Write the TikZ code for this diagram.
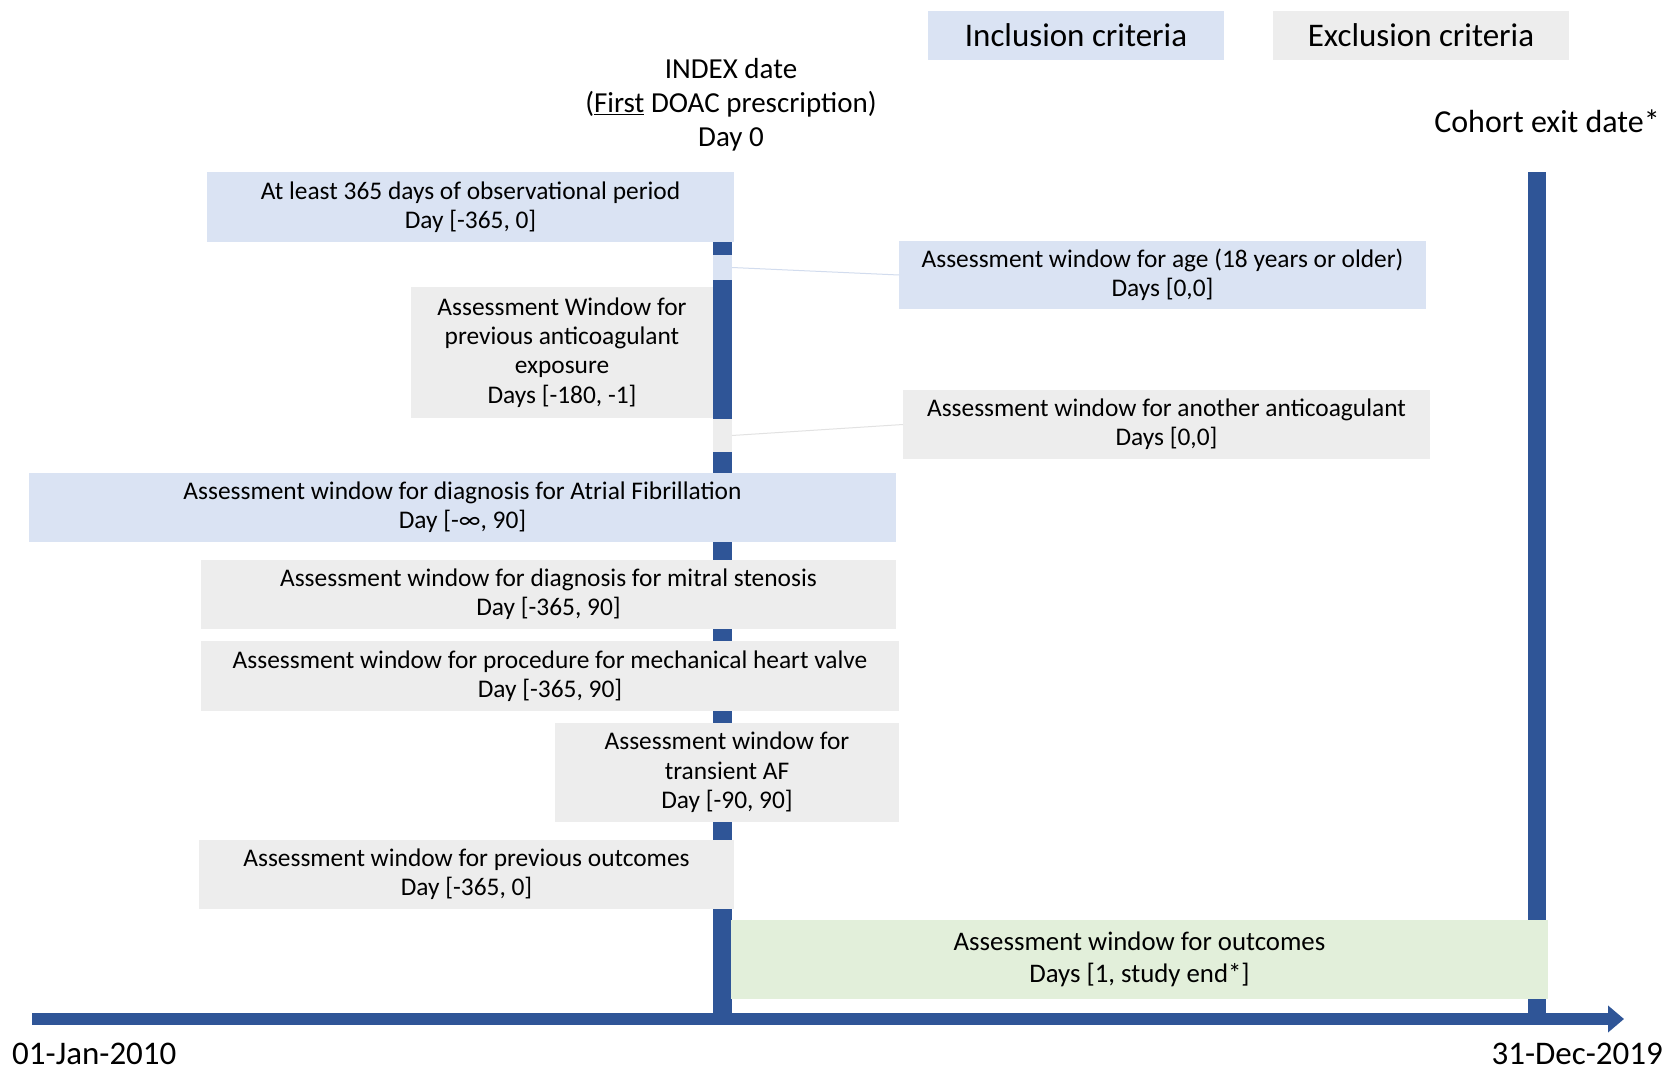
\documentclass[tikz,border=0pt]{standalone}
\usepackage{fontspec}
\setmainfont{Carlito}
\usetikzlibrary{arrows.meta}
\definecolor{barblue}{HTML}{2F5597}
\definecolor{inblue}{HTML}{DAE3F3}
\definecolor{exgray}{HTML}{EDEDED}
\definecolor{outgreen}{HTML}{E2EFDA}
\definecolor{linkblue}{HTML}{D2DCEE}
\definecolor{linkgray}{HTML}{E2E2E2}
\begin{document}
\begin{tikzpicture}[x=1pt,y=-1pt,
  rbox/.style={anchor=north west, inner sep=0pt, outer sep=0pt, align=center, text=black,
    font=\fontsize{25.4}{29.4}\selectfont},
  inbox/.style={rbox, fill=inblue},
  exbox/.style={rbox, fill=exgray},
  outbox/.style={rbox, fill=outgreen, font=\fontsize{26.8}{32.5}\selectfont},
  legend/.style={rbox, font=\fontsize{33}{38}\selectfont},
  seg/.style={anchor=north west, inner sep=0pt, outer sep=0pt, minimum width=19pt},
  lbl/.style={inner sep=0pt, align=center, text=black, font=\fontsize{29}{34}\selectfont},
  datelbl/.style={inner sep=0pt, text=black, font=\fontsize{33}{38}\selectfont},
  link/.style={line width=1pt}
]
\useasboundingbox (0,0) rectangle (1667,1067);
\fill[white] (0,0) rectangle (1667,1067);

% legend
\node[legend, fill=inblue, minimum width=296pt, minimum height=49pt] (incl) at (928,11) {Inclusion criteria};
\node[legend, fill=exgray, minimum width=296pt, minimum height=49pt] (excl) at (1273,11) {Exclusion criteria};

% top labels
\node[lbl] (index) at (731,105) {INDEX date\\(\underline{First} DOAC prescription)\\Day 0};
\node[lbl, font=\fontsize{32}{36}\selectfont] (exit) at (1547,121) {Cohort exit date*};

% bars and axis
\fill[barblue] (713,242) rectangle (732,1019);
\fill[barblue] (1528,172) rectangle (1546,1019);
\coordinate (axstart) at (32,1019);
\coordinate (axend) at (1624,1019);
\draw[barblue, line width=12pt, -{Triangle[length=16pt,width=26pt]}] (axstart) -- (axend);
\node[datelbl, anchor=west] (d0) at (12,1054) {01-Jan-2010};
\node[datelbl, anchor=east] (d1) at (1663,1054) {31-Dec-2019};

% boxes
\node[inbox, minimum width=527pt, minimum height=70pt] (obs) at (207,172)
  {At least 365 days of observational period\\Day [-365, 0]};
\node[seg, fill=inblue, minimum height=25pt] (ageseg) at (713,255) {};
\node[inbox, minimum width=527pt, minimum height=68pt] (age) at (899,241)
  {Assessment window for age (18 years or older)\\Days [0,0]};
\draw[link, linkblue] (ageseg.east) -- (age.west);

\node[exbox, minimum width=302pt, minimum height=131pt] (prev) at (411,287)
  {Assessment Window for\\previous anticoagulant\\exposure\\Days [-180, -1]};
\node[seg, fill=exgray, minimum height=33pt] (anoseg) at (713,419) {};
\node[exbox, minimum width=527pt, minimum height=69pt] (another) at (903,390)
  {Assessment window for another anticoagulant\\Days [0,0]};
\draw[link, linkgray] (anoseg.east) -- (another.west);

\node[inbox, minimum width=867pt, minimum height=69pt] (af) at (29,473)
  {Assessment window for diagnosis for Atrial Fibrillation\\Day [-∞, 90]};
\node[exbox, minimum width=695pt, minimum height=69pt] (mitral) at (201,560)
  {Assessment window for diagnosis for mitral stenosis\\Day [-365, 90]};
\node[exbox, minimum width=698pt, minimum height=70pt] (valve) at (201,641)
  {Assessment window for procedure for mechanical heart valve\\Day [-365, 90]};
\node[exbox, minimum width=344pt, minimum height=99pt] (trans) at (555,723)
  {Assessment window for\\transient AF\\Day [-90, 90]};
\node[exbox, minimum width=535pt, minimum height=69pt] (prevout) at (199,840)
  {Assessment window for previous outcomes\\Day [-365, 0]};
\node[outbox, minimum width=817pt, minimum height=79pt] (out) at (731,920)
  {Assessment window for outcomes\\Days [1, study end*]};
\end{tikzpicture}
\end{document}
